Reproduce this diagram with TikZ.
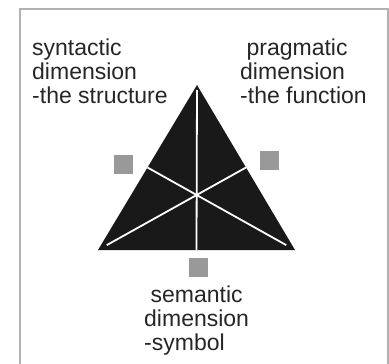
\documentclass[tikz,border=0pt]{standalone}
\usepackage{fontspec}
\setmainfont{Liberation Sans}
\usetikzlibrary{calc}

\begin{document}
\begin{tikzpicture}[x=1pt, y=-1pt,
    greysq/.style={fill=black!40, minimum size=19pt, inner sep=0pt},
    dimtext/.style={align=left, anchor=base west, inner sep=0pt, text=black!85,
        font=\fontsize{23}{24}\selectfont}]
    \useasboundingbox (0,0) rectangle (389,364);

    % Rahmen
    \draw[black!30, line width=1.5pt] (20,370) -- (20,9) -- (388,9) -- (388,370);

    % Dreieck
    \coordinate (top) at (197,85);
    \coordinate (left) at (98,250);
    \coordinate (right) at (295,250);
    \coordinate (mbase) at ($(left)!0.5!(right)$);
    \coordinate (mleft) at ($(top)!0.5!(left)$);
    \coordinate (mright) at ($(top)!0.5!(right)$);
    \fill[black!90] (top) -- (left) -- (right) -- cycle;

    % Seitenhalbierende
    \draw[white, line width=1.8pt, shorten <=5pt] (top) -- (mbase);
    \draw[white, line width=1.8pt, shorten <=10pt] (left) -- (mright);
    \draw[white, line width=1.8pt, shorten <=10pt] (right) -- (mleft);

    % Quadrate
    \node[greysq] (sqsyn) at (123.5,164) {};
    \node[greysq] (sqprag) at (269,160.5) {};
    \node[greysq] (sqsem) at (198,267.5) {};

    % Beschriftung
    \node[dimtext] (syn) at (32,103) {syntactic\\dimension\\-the structure};
    \node[dimtext] (prag) at (240,103) {\ pragmatic\\dimension\\-the function};
    \node[dimtext] (sem) at (144,350) {\ semantic\\dimension\\-symbol};
\end{tikzpicture}
\end{document}
